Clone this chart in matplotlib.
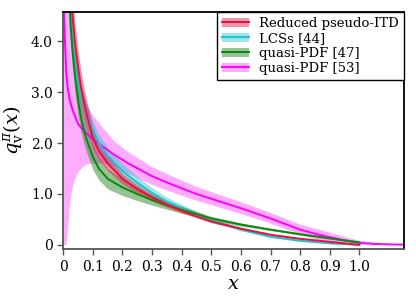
import matplotlib
matplotlib.use("Agg")
import matplotlib.pyplot as plt
from matplotlib.patches import Patch
from matplotlib.lines import Line2D

plt.rcParams['font.family'] = ['DejaVu Serif']
plt.rcParams['mathtext.fontset'] = 'dejavuserif'

# Reduced pseudo-ITD
x_itd = [0.025, 0.03, 0.04, 0.05, 0.06, 0.07, 0.08, 0.1, 0.12, 0.15, 0.2, 0.25, 0.3, 0.35, 0.4, 0.45, 0.5, 0.6, 0.7, 0.8, 0.9, 0.95, 1.0]
y_itd = [5.2, 4.6, 3.95, 3.5, 3.1, 2.8, 2.55, 2.1, 1.85, 1.6, 1.3, 1.1, 0.93, 0.79, 0.67, 0.56, 0.46, 0.32, 0.2, 0.12, 0.06, 0.03, 0.0]
lo_itd = [4.7, 4.15, 3.55, 3.15, 2.78, 2.5, 2.28, 1.9, 1.68, 1.46, 1.2, 1.02, 0.86, 0.74, 0.63, 0.53, 0.435, 0.3, 0.19, 0.11, 0.055, 0.027, 0.0]
hi_itd = [5.7, 5.05, 4.35, 3.85, 3.42, 3.1, 2.82, 2.3, 2.02, 1.74, 1.4, 1.18, 1.0, 0.84, 0.71, 0.59, 0.485, 0.34, 0.21, 0.13, 0.065, 0.033, 0.0]

# LCSs [44]
x_lcs = [0.015, 0.02, 0.025, 0.03, 0.04, 0.05, 0.06, 0.08, 0.1, 0.12, 0.15, 0.2, 0.25, 0.3, 0.35, 0.4, 0.5, 0.6, 0.7, 0.8, 0.9, 0.95, 1.0]
y_lcs = [5.6, 5.0, 4.6, 4.25, 3.65, 3.25, 2.95, 2.55, 2.25, 2.0, 1.75, 1.45, 1.22, 1.02, 0.85, 0.72, 0.48, 0.3, 0.16, 0.08, 0.03, 0.015, 0.0]
lo_lcs = [5.0, 4.45, 4.1, 3.8, 3.3, 2.95, 2.7, 2.33, 2.05, 1.82, 1.58, 1.3, 1.1, 0.92, 0.77, 0.65, 0.44, 0.27, 0.14, 0.07, 0.025, 0.012, 0.0]
hi_lcs = [6.2, 5.55, 5.1, 4.7, 4.0, 3.55, 3.2, 2.77, 2.45, 2.18, 1.92, 1.6, 1.34, 1.12, 0.93, 0.79, 0.52, 0.33, 0.18, 0.09, 0.035, 0.018, 0.0]

# quasi-PDF [47]
x_q47 = [0.02, 0.025, 0.03, 0.04, 0.05, 0.06, 0.07, 0.08, 0.1, 0.12, 0.15, 0.2, 0.25, 0.3, 0.35, 0.4, 0.5, 0.6, 0.7, 0.8, 0.9, 0.95, 1.0]
y_q47 = [5.0, 4.3, 3.9, 3.3, 2.85, 2.5, 2.25, 2.05, 1.73, 1.5, 1.3, 1.13, 1.0, 0.88, 0.78, 0.69, 0.52, 0.4, 0.3, 0.21, 0.13, 0.09, 0.05]
lo_q47 = [4.6, 3.95, 3.55, 2.98, 2.55, 2.22, 1.98, 1.8, 1.48, 1.28, 1.1, 0.97, 0.87, 0.78, 0.7, 0.62, 0.48, 0.37, 0.28, 0.19, 0.11, 0.07, 0.03]
hi_q47 = [5.4, 4.65, 4.25, 3.62, 3.15, 2.78, 2.52, 2.3, 1.98, 1.72, 1.5, 1.29, 1.13, 0.98, 0.86, 0.76, 0.56, 0.43, 0.32, 0.23, 0.15, 0.11, 0.07]

# quasi-PDF [53]
x_q53 = [0.0, 0.002, 0.006, 0.011, 0.016, 0.022, 0.028, 0.035, 0.05, 0.065, 0.08, 0.1, 0.134, 0.17, 0.22, 0.3, 0.37, 0.45, 0.53, 0.6, 0.7, 0.8, 0.87, 0.95, 1.0, 1.05, 1.1, 1.15]
y_q53 = [5.5, 4.7, 3.96, 3.31, 3.05, 2.85, 2.72, 2.6, 2.38, 2.27, 2.18, 2.08, 1.93, 1.78, 1.6, 1.35, 1.18, 1.0, 0.85, 0.72, 0.52, 0.3, 0.19, 0.09, 0.04, 0.02, 0.01, 0.005]
lo_q53 = [0.0, 0.0, 0.0, 0.0, 0.25, 0.75, 1.0, 1.2, 1.42, 1.52, 1.58, 1.6, 1.6, 1.55, 1.4, 1.18, 1.03, 0.87, 0.73, 0.61, 0.42, 0.2, 0.08, 0.02, 0.005, 0.0, 0.0, 0.0]
hi_q53 = [9.0, 9.0, 8.0, 7.0, 6.0, 5.2, 4.6, 4.1, 3.4, 3.0, 2.75, 2.55, 2.3, 2.05, 1.82, 1.53, 1.34, 1.14, 0.98, 0.84, 0.63, 0.4, 0.29, 0.16, 0.08, 0.04, 0.02, 0.012]

xticks = [0, 0.1, 0.2, 0.3, 0.4, 0.5, 0.6, 0.7, 0.8, 0.9, 1.0]
xticklabels = ['0', '0.1', '0.2', '0.3', '0.4', '0.5', '0.6', '0.7', '0.8', '0.9', '1.0']
yticks = [0, 1, 2, 3, 4]
yticklabels = ['0', '1.0', '2.0', '3.0', '4.0']

series = [
    ("Reduced pseudo-ITD", x_itd, y_itd, lo_itd, hi_itd, '#e8103e', '#e8103e', 0.45),
    ("LCSs [44]", x_lcs, y_lcs, lo_lcs, hi_lcs, '#1fc0cc', '#20c8d0', 0.45),
    ("quasi-PDF [47]", x_q47, y_q47, lo_q47, hi_q47, '#0a8a0a', '#2a8a2a', 0.5),
    ("quasi-PDF [53]", x_q53, y_q53, lo_q53, hi_q53, '#ff00ff', '#ff66ff', 0.55),
]

fig = plt.figure(figsize=(4.16, 3.01), dpi=100)
ax = fig.add_axes([0.152, 0.172, 0.820, 0.789])

handles = []
for i in [3, 1, 2, 0]:
    lab, xs, ys, lo, hi, lc, fc, al = series[i]
    ax.fill_between(xs, lo, hi, color=fc, alpha=al, lw=0)
for i in [3, 1, 2, 0]:
    lab, xs, ys, lo, hi, lc, fc, al = series[i]
    ax.plot(xs, ys, color=lc, lw=1.4)
for lab, xs, ys, lo, hi, lc, fc, al in series:
    handles.append((Patch(facecolor=fc, alpha=al, lw=0), Line2D([], [], color=lc, lw=1.4)))

ax.set_xlim(0, 1.152)
ax.set_ylim(-0.085, 4.58)
ax.set_xticks(xticks)
ax.set_xticklabels(xticklabels)
ax.set_yticks(yticks)
ax.set_yticklabels(yticklabels)
ax.tick_params(direction='out', length=4, width=1, labelsize=10, color='#555555')
for s in ax.spines.values():
    s.set_linewidth(1.3)
ax.spines['left'].set_color('#555555')
ax.spines['bottom'].set_color('#555555')
ax.set_xlabel(r'$x$', fontsize=14, labelpad=1)
ax.set_ylabel(r'$q_{\rm v}^{\pi}(x)$', fontsize=14, labelpad=4)

leg = ax.legend(handles, [s[0] for s in series], loc='upper right', fontsize=9.5,
                frameon=True, fancybox=False, edgecolor='black', framealpha=1,
                borderaxespad=0.0, handlelength=2.0, labelspacing=0.15)
leg.get_frame().set_linewidth(1.0)

fig.savefig('out.png', dpi=100)
